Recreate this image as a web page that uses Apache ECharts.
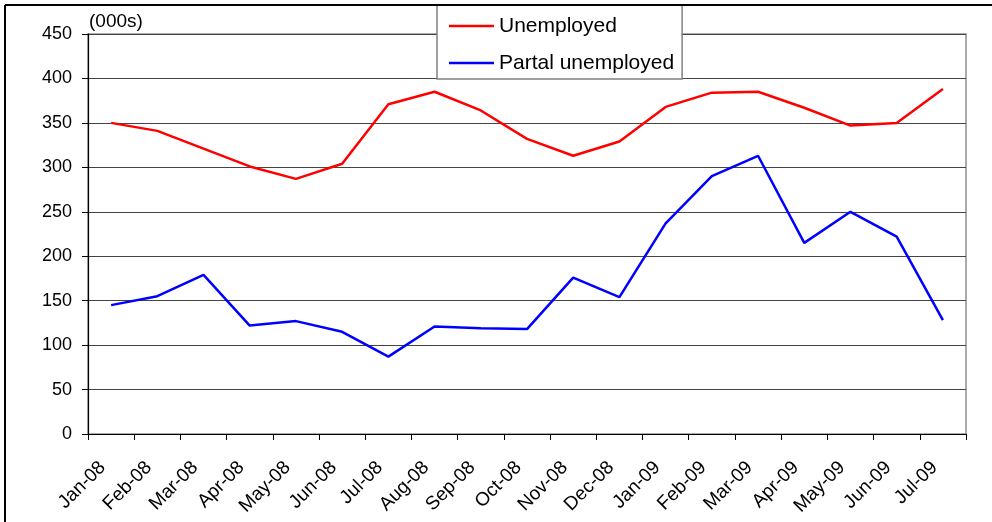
<!DOCTYPE html>
<html>
<head>
<meta charset="utf-8">
<script src="https://cdn.jsdelivr.net/npm/echarts@6/dist/echarts.min.js"></script>
<style>
html,body{margin:0;padding:0;background:#fff;}
#chart{width:992px;height:522px;}
</style>
</head>
<body>
<div id="chart"></div>
<script>
var categories = ['Jan-08','Feb-08','Mar-08','Apr-08','May-08','Jun-08','Jul-08','Aug-08','Sep-08','Oct-08','Nov-08','Dec-08','Jan-09','Feb-09','Mar-09','Apr-09','May-09','Jun-09','Jul-09'];
var unemployed = [350, 341, 321, 301, 287, 304, 371, 385, 364, 332, 313, 329, 368, 384, 385, 367, 347, 350, 388];
var partial = [145, 155, 179, 122, 127, 115, 87, 121, 119, 118, 176, 154, 237, 290, 313, 215, 250, 222, 128];
var seriesNames = ['Unemployed', 'Partal unemployed'];
var unitLabel = '(000s)';

var FONT = '"Liberation Sans", Arial, sans-serif';
var chart = echarts.init(document.getElementById('chart'));
chart.setOption({
  animation: false,
  backgroundColor: '#fff',
  textStyle: { fontFamily: FONT },
  title: {
    text: unitLabel,
    left: 89, top: 12,
    padding: 0,
    textStyle: { fontFamily: FONT, fontSize: 19, fontWeight: 'normal', color: '#000' }
  },
  legend: {
    data: seriesNames,
    orient: 'vertical',
    left: 437, top: 5,
    padding: [10.5, 8, 5.5, 12],
    itemWidth: 45, itemHeight: 2.5,
    itemGap: 16,
    icon: 'rect',
    backgroundColor: '#fff',
    borderColor: '#808080',
    borderWidth: 1.5,
    textStyle: { fontFamily: FONT, fontSize: 21, color: '#000', lineHeight: 21 }
  },
  grid: { left: 88, right: 26, top: 34, bottom: 88, show: true, borderColor: '#909090', borderWidth: 1.5 },
  xAxis: {
    type: 'category',
    data: categories,
    boundaryGap: true,
    axisLine: { lineStyle: { color: '#000', width: 1.2 } },
    axisTick: { show: true, length: 6, lineStyle: { color: '#000' } },
    axisLabel: { rotate: 45, fontSize: 19, color: '#000', margin: 22, interval: 0, fontFamily: FONT, padding: [0, 12, 0, 0] },
    splitLine: { show: false }
  },
  yAxis: {
    type: 'value',
    min: 0, max: 450, interval: 50,
    axisLine: { show: true, lineStyle: { color: '#000', width: 1.2 } },
    axisTick: { show: true, length: 6, lineStyle: { color: '#000' } },
    axisLabel: { fontSize: 18, color: '#000', margin: 16, fontFamily: FONT },
    splitLine: { show: true, lineStyle: { color: '#444', width: 1 } }
  },
  series: [
    { name: seriesNames[0], type: 'line', data: unemployed, showSymbol: false, symbol: 'none',
      lineStyle: { color: '#ff0000', width: 2.5 }, itemStyle: { color: '#ff0000' } },
    { name: seriesNames[1], type: 'line', data: partial, showSymbol: false, symbol: 'none',
      lineStyle: { color: '#0000ff', width: 2.5 }, itemStyle: { color: '#0000ff' } }
  ],
  graphic: [
    { type: 'line', shape: { x1: 5, y1: 5, x2: 992, y2: 5 }, style: { stroke: '#000', lineWidth: 2 }, z: 100 },
    { type: 'line', shape: { x1: 5, y1: 5, x2: 5, y2: 522 }, style: { stroke: '#000', lineWidth: 2 }, z: 100 }
  ]
});
</script>
</body>
</html>
